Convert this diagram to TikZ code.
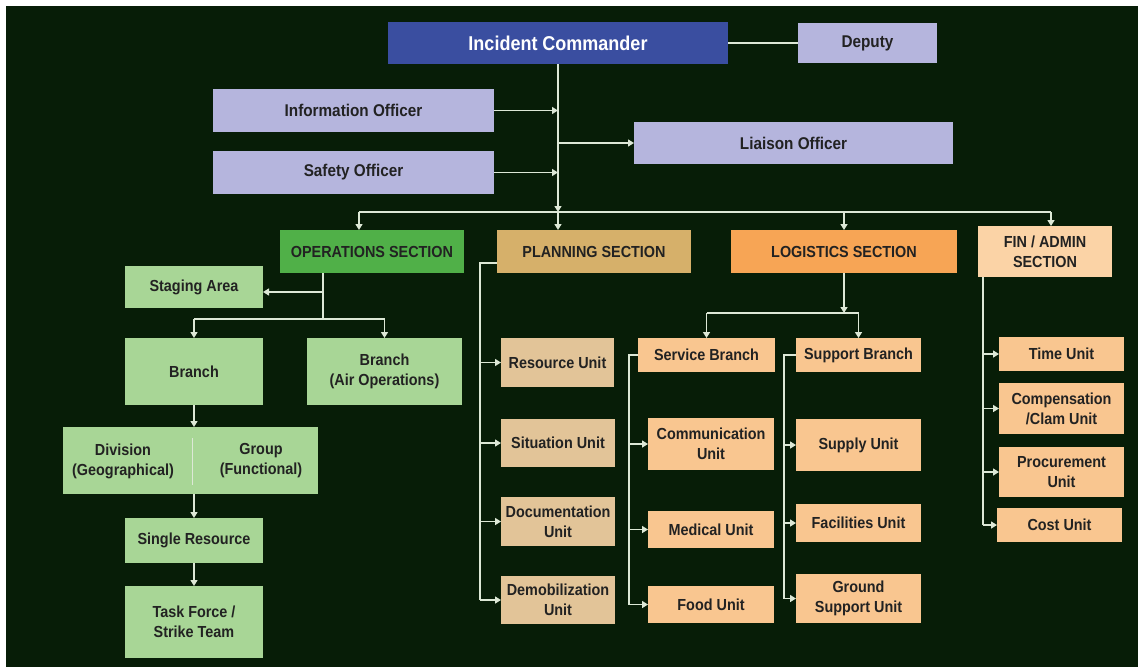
\documentclass[tikz,border=0pt]{standalone}
\usepackage{fontspec}
\setmainfont{Liberation Sans}[FakeStretch=0.9]
\usetikzlibrary{arrows.meta,calc}

\definecolor{bgdark}{HTML}{071D07}
\definecolor{cmdblue}{HTML}{3A4EA0}
\definecolor{lavender}{HTML}{B5B5DD}
\definecolor{opsgreen}{HTML}{50B048}
\definecolor{lgreen}{HTML}{A8D696}
\definecolor{plantan}{HTML}{D6B06A}
\definecolor{lighttan}{HTML}{E2C498}
\definecolor{logorange}{HTML}{F7A555}
\definecolor{peach}{HTML}{F9C690}
\definecolor{finpeach}{HTML}{FBD3A6}
\definecolor{linec}{HTML}{DDE8D6}
\definecolor{txtdark}{HTML}{222222}

\tikzset{
  box/.style={rectangle, inner sep=2pt, outer sep=0pt, align=center,
    font=\fontsize{16}{20}\selectfont\bfseries, text=txtdark},
  cmdbox/.style={box, fill=cmdblue, text=white, font=\fontsize{20}{24}\selectfont\bfseries},
  staffbox/.style={box, fill=lavender, font=\fontsize{17}{21}\selectfont\bfseries},
  opsbox/.style={box, fill=opsgreen},
  opsunit/.style={box, fill=lgreen},
  planbox/.style={box, fill=plantan},
  planunit/.style={box, fill=lighttan},
  logbox/.style={box, fill=logorange},
  logunit/.style={box, fill=peach},
  finbox/.style={box, fill=finpeach},
  plaintext/.style={box, inner sep=0pt},
  link/.style={draw=linec, line width=1.4pt},
  arr/.style={link, -{Triangle[width=7pt,length=6pt]}},
  divider/.style={draw=linec, line width=1pt},
}

% box from its corners: name, style, x1, y1, x2, y2, text
\newcommand\orgbox[7]{%
  \node[#2, minimum width={(#5-#3)*1pt}, minimum height={(#6-#4)*1pt}]
    (#1) at ({(#3+#5)/2},{(#4+#6)/2}) {#7};}

\begin{document}
\begin{tikzpicture}[x=1pt, y=-1pt]
  \useasboundingbox (0,0) rectangle (1140,667);
  \fill[white] (0,0) rectangle (1140,667);
  \fill[bgdark] (6,6) rectangle (1138,667);

  % command and staff
  \orgbox{ic}{cmdbox}{388}{22}{728}{64}{Incident Commander}
  \orgbox{deputy}{staffbox}{798}{23}{937}{63}{Deputy}
  \orgbox{info}{staffbox}{213}{89}{494}{132}{Information Officer}
  \orgbox{safety}{staffbox}{213}{151}{494}{194}{Safety Officer}
  \orgbox{liaison}{staffbox}{634}{122}{953}{164}{Liaison Officer}

  % sections
  \orgbox{ops}{opsbox}{280}{230}{464}{273}{OPERATIONS SECTION}
  \orgbox{plan}{planbox}{497}{230}{691}{273}{PLANNING SECTION}
  \orgbox{log}{logbox}{731}{230}{957}{273}{LOGISTICS SECTION}
  \orgbox{fin}{finbox}{978}{226}{1112}{277}{FIN / ADMIN\\SECTION}

  % operations
  \orgbox{stage}{opsunit}{125}{266}{263}{308}{Staging Area}
  \orgbox{branch}{opsunit}{125}{338}{263}{405}{Branch}
  \orgbox{air}{opsunit}{307}{338}{462}{405}{Branch\\(Air Operations)}
  \orgbox{divgrp}{opsunit}{63}{427}{318}{494}{}
  \node[plaintext] (divtxt) at (123,461) {Division\\(Geographical)};
  \node[plaintext] (grptxt) at (261,461) {Group\\(Functional)};
  \draw[divider] ($(divgrp.north)+(1.5,11)$) -- ($(divgrp.south)+(1.5,-9)$);
  \orgbox{single}{opsunit}{125}{518}{263}{563}{Single Resource}
  \orgbox{task}{opsunit}{125}{586}{263}{658}{Task Force /\\Strike Team}

  % planning
  \orgbox{res}{planunit}{501}{338}{614}{387}{Resource Unit}
  \orgbox{sit}{planunit}{501}{419}{615}{467}{Situation Unit}
  \orgbox{doc}{planunit}{501}{497}{615}{546}{Documentation\\Unit}
  \orgbox{demob}{planunit}{501}{576}{615}{624}{Demobilization\\Unit}

  % logistics
  \orgbox{svc}{logunit}{638}{338}{775}{372}{Service Branch}
  \orgbox{sup}{logunit}{796}{338}{921}{372}{Support Branch}
  \orgbox{comm}{logunit}{648}{418}{774}{470}{Communication\\Unit}
  \orgbox{med}{logunit}{648}{511}{774}{548}{Medical Unit}
  \orgbox{food}{logunit}{648}{586}{774}{623}{Food Unit}
  \orgbox{supply}{logunit}{796}{419}{921}{471}{Supply Unit}
  \orgbox{fac}{logunit}{796}{504}{921}{542}{Facilities Unit}
  \orgbox{ground}{logunit}{796}{574}{921}{623}{Ground\\Support Unit}

  % finance / admin
  \orgbox{time}{logunit}{999}{337}{1124}{371}{Time Unit}
  \orgbox{comp}{logunit}{999}{383}{1124}{434}{Compensation\\/Clam Unit}
  \orgbox{proc}{logunit}{999}{447}{1124}{497}{Procurement\\Unit}
  \orgbox{cost}{logunit}{997}{508}{1122}{542}{Cost Unit}

  % junction points
  \coordinate (jops) at (359,212);
  \coordinate (jfin) at (1051,212);
  \coordinate (jlog) at (844,212);
  \coordinate (obus) at (323,319);
  \coordinate (pv) at (480,263);
  \coordinate (lbus) at (844,313);
  \coordinate (sv) at ($(svc.west)+(-9,0)$);
  \coordinate (uv) at ($(sup.west)+(-12,0)$);
  \coordinate (fv) at ($(fin.south west)+(5,0)$);

  % command links
  \draw[link] (ic.east) -- (deputy.west);
  \draw[arr] (info.east) -- (info.east -| ic.south);
  \draw[arr] (safety.east) -- (safety.east -| ic.south);
  \draw[arr] (liaison.west -| ic.south) -- (liaison.west);
  \draw[arr] (ic.south) -- (ic.south |- jops);
  \draw[link] (jops) -- (jfin);
  \draw[arr] (ic.south |- jops) -- (ic.south |- plan.north);
  \draw[arr] (jops) -- (jops |- ops.north);
  \draw[arr] (jlog) -- (jlog |- log.north);
  \draw[arr] (jfin) -- (jfin |- fin.north);

  % operations links
  \draw[link] (obus |- ops.south) -- (obus);
  \draw[arr] (obus |- 0,292) -- (stage.east |- 0,292);
  \draw[link] (obus -| branch.north) -- (obus -| air.north);
  \draw[arr] (obus -| branch.north) -- (branch.north);
  \draw[arr] (obus -| air.north) -- (air.north);
  \draw[arr] (branch.south) -- (branch.south |- divgrp.north);
  \draw[arr] (branch.south |- divgrp.south) -- (single.north);
  \draw[arr] (single.south) -- (task.north);

  % planning links
  \draw[link] (plan.west |- pv) -- (pv) -- (pv |- demob.west);
  \draw[arr] (pv |- res.west) -- (res.west);
  \draw[arr] (pv |- sit.west) -- (sit.west);
  \draw[arr] (pv |- doc.west) -- (doc.west);
  \draw[arr] (pv |- demob.west) -- (demob.west);

  % logistics links
  \draw[arr] (log.south) -- (lbus);
  \draw[link] (lbus -| svc.north) -- (lbus -| sup.north);
  \draw[arr] (lbus -| svc.north) -- (svc.north);
  \draw[arr] (lbus -| sup.north) -- (sup.north);
  \draw[link] (svc.west) -- (sv) -- (sv |- food.west);
  \draw[arr] (sv |- comm.west) -- (comm.west);
  \draw[arr] (sv |- med.west) -- (med.west);
  \draw[arr] (sv |- food.west) -- (food.west);
  \draw[link] (sup.west) -- (uv) -- (uv |- ground.west);
  \draw[arr] (uv |- supply.west) -- (supply.west);
  \draw[arr] (uv |- fac.west) -- (fac.west);
  \draw[arr] (uv |- ground.west) -- (ground.west);

  % finance / admin links
  \draw[link] (fv) -- (fv |- cost.west);
  \draw[arr] (fv |- time.west) -- (time.west);
  \draw[arr] (fv |- comp.west) -- (comp.west);
  \draw[arr] (fv |- proc.west) -- (proc.west);
  \draw[arr] (fv |- cost.west) -- (cost.west);
\end{tikzpicture}
\end{document}
